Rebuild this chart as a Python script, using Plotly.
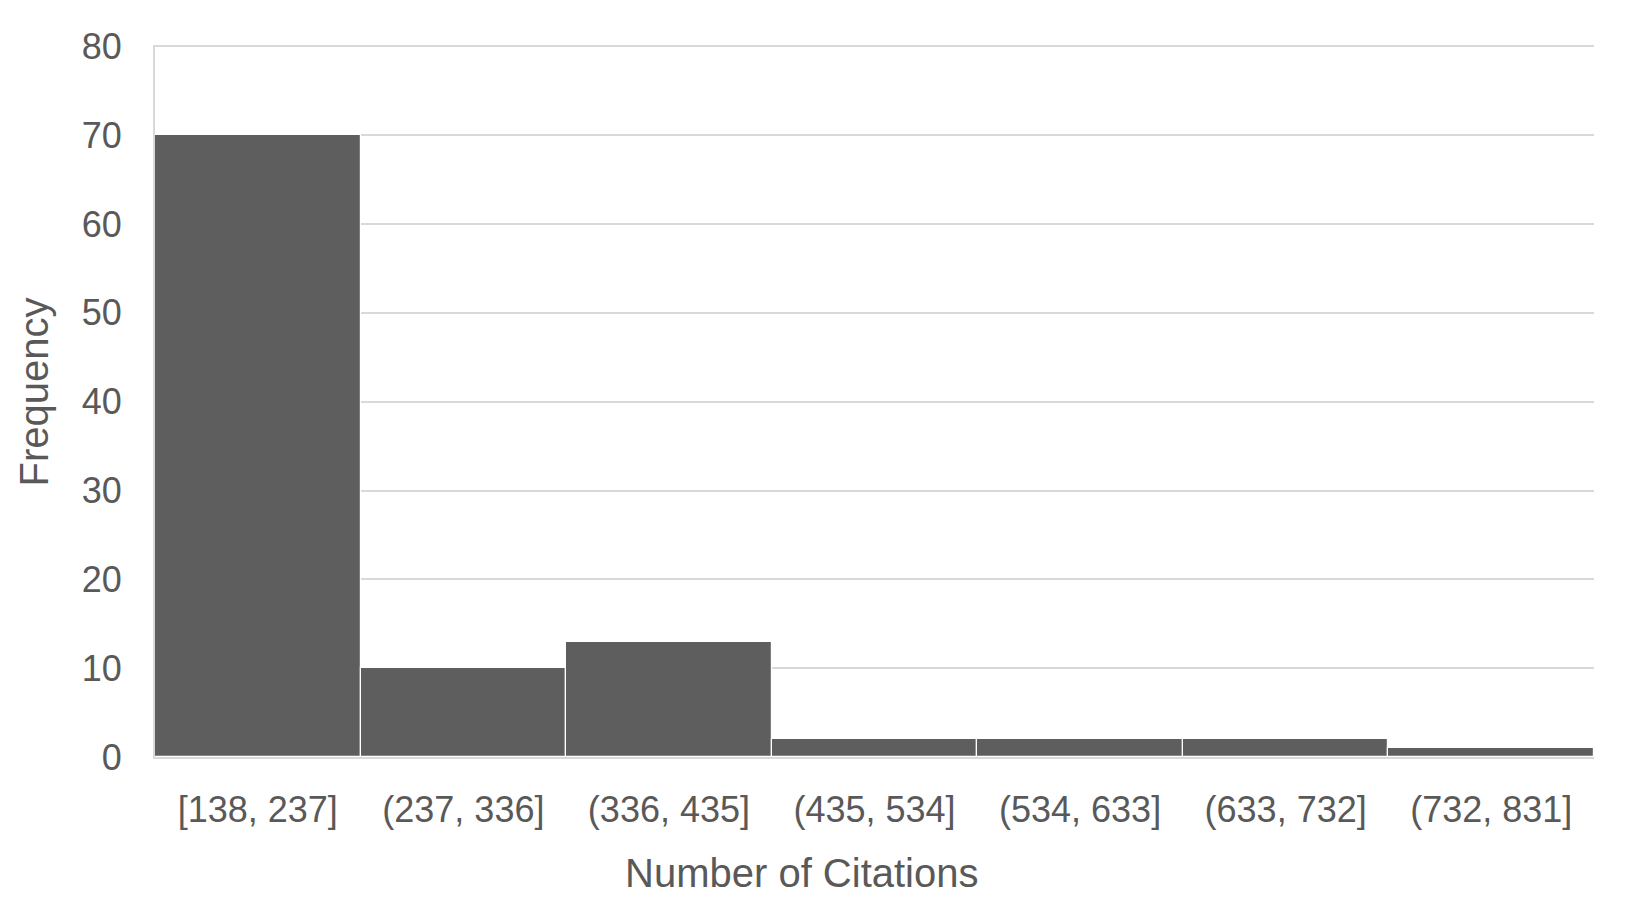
import plotly.graph_objects as go

# Histogram of citation counts (bins of width 99)
bins = ["[138, 237]", "(237, 336]", "(336, 435]", "(435, 534]",
        "(534, 633]", "(633, 732]", "(732, 831]"]
frequency = [70, 10, 13, 2, 2, 2, 1]

y_ticks = [0, 10, 20, 30, 40, 50, 60, 70, 80]

font_family = "Liberation Sans, Arial, sans-serif"
text_color = "#595959"
grid_color = "#d9d9d9"

fig = go.Figure()

fig.add_trace(go.Bar(
    x=bins,
    y=frequency,
    marker_color="#5e5e5e",
    marker_line_color="white",
    marker_line_width=1.2,
    name="Frequency"
))

fig.update_layout(
    width=1630,
    height=914,
    margin=dict(l=147, r=44, t=37, b=165),
    paper_bgcolor="white",
    plot_bgcolor="white",
    bargap=0,
    showlegend=False,
    font=dict(family=font_family, color=text_color, size=36),
)

fig.update_xaxes(
    type="category",
    showgrid=False,
    showline=True,
    linecolor=grid_color,
    linewidth=2,
    ticks="",
    ticklabelstandoff=20,
    tickfont=dict(size=36, color=text_color),
)

fig.update_yaxes(
    range=[0, 80.15],
    tickvals=y_ticks,
    showgrid=True,
    gridcolor=grid_color,
    gridwidth=2,
    zeroline=False,
    showline=True,
    linecolor=grid_color,
    linewidth=2,
    ticks="",
    ticklabelstandoff=24,
    tickfont=dict(size=36, color=text_color),
)

# axis titles placed as in the original (x title sits left of centre)
fig.add_annotation(
    text="Number of Citations", xref="paper", yref="paper",
    x=0.449, y=0, yshift=-116, xanchor="center", yanchor="middle",
    showarrow=False, font=dict(size=40, color=text_color)
)
fig.add_annotation(
    text="Frequency", xref="paper", yref="paper",
    x=0, y=0.512, xshift=-121, xanchor="center", yanchor="middle",
    textangle=-90, showarrow=False, font=dict(size=40, color=text_color)
)

fig.write_html("out.html")
